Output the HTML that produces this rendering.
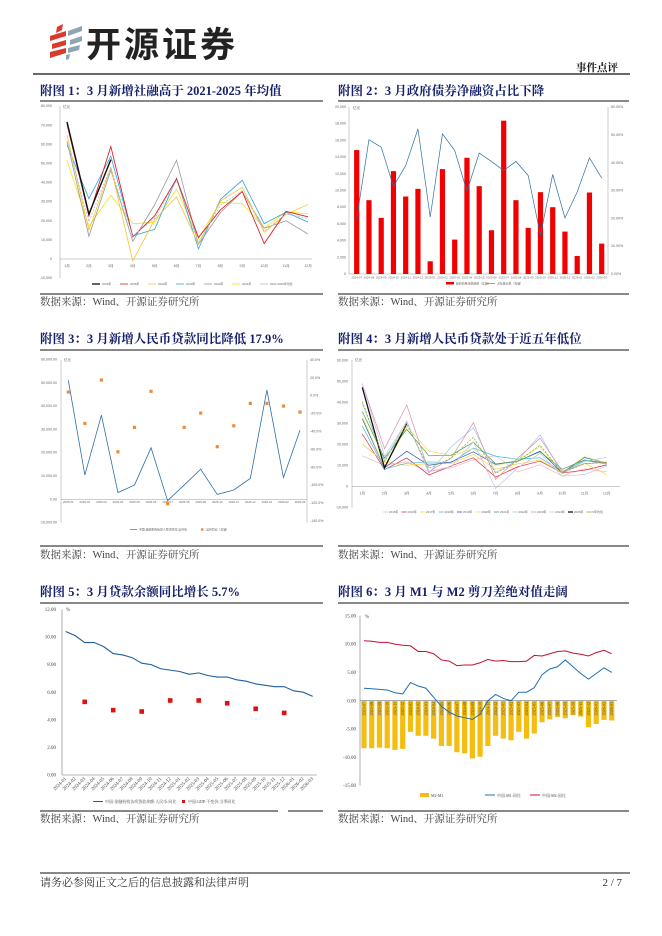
<!DOCTYPE html>
<html><head><meta charset="utf-8">
<style>
html,body{margin:0;padding:0;background:#fff;}
svg{display:block;font-family:"Liberation Serif","Noto Serif CJK SC",serif;}
.t{font-family:"Liberation Serif","Noto Serif CJK SC",serif;font-weight:bold;fill:#16206a;font-size:12.5px;}
.src{font-size:10.5px;fill:#444;}
.tk{font-size:3.6px;fill:#666;font-family:"Liberation Sans","Noto Sans CJK SC",sans-serif;}
.lg{font-size:2.9px;fill:#666;font-family:"Liberation Sans","Noto Sans CJK SC",sans-serif;}
.tk2{font-size:5px;fill:#444;}
.lg2{font-size:4px;fill:#444;}
</style></head><body>
<svg id="pg" width="662" height="936" viewBox="0 0 662 936" xmlns="http://www.w3.org/2000/svg">
<g>
 <g>
  <path d="M57 27 L63 24 L62 30 L56 33Z" fill="#d93a2b"/>
  <path d="M50 36 L66 31 L66 36 L50 41Z" fill="#d93a2b"/>
  <path d="M52 44 L66 40 L66 45 L52 49Z" fill="#d93a2b"/>
  <path d="M50 52 L66 48 L66 53 L50 58Z" fill="#d93a2b"/>
  <path d="M68 31 L82 26 L82 31 L68 36Z" fill="#8fa5b3"/>
  <path d="M70 40 L82 36 L82 41 L70 45Z" fill="#8fa5b3"/>
  <path d="M68 48 L80 45 L79 50 L68 53Z" fill="#8fa5b3"/>
  <path d="M66 55 L70 54 L69 59 L66 60Z" fill="#8fa5b3"/>
 </g>
 <text x="86" y="57" font-family="'Liberation Sans','Noto Sans CJK SC',sans-serif" font-weight="bold" font-size="35" fill="#222" letter-spacing="3">开源证券</text>
</g>
<text x="618" y="71" text-anchor="end" font-size="10.5" font-weight="bold" fill="#111">事件点评</text>
<line x1="33" y1="74" x2="630" y2="74" stroke="#111" stroke-width="1.2"/>

<text class="t" x="40" y="95">附图 1：3 月新增社融高于 2021-2025 年均值</text>
<text class="t" x="338" y="95">附图 2：3 月政府债券净融资占比下降</text>
<text class="t" x="40" y="343">附图 3：3 月新增人民币贷款同比降低 17.9%</text>
<text class="t" x="338" y="343">附图 4：3 月新增人民币贷款处于近五年低位</text>
<text class="t" x="40" y="596">附图 5：3 月贷款余额同比增长 5.7%</text>
<text class="t" x="338" y="596">附图 6：3 月 M1 与 M2 剪刀差绝对值走阔</text>

<g stroke="#111" stroke-width="1.1">
 <line x1="40" y1="101" x2="323" y2="101"/><line x1="338" y1="101" x2="629" y2="101"/>
 <line x1="40" y1="294" x2="323" y2="294"/><line x1="338" y1="294" x2="629" y2="294"/>
 <line x1="40" y1="350" x2="323" y2="350"/><line x1="338" y1="350" x2="629" y2="350"/>
 <line x1="40" y1="546" x2="323" y2="546"/><line x1="338" y1="546" x2="629" y2="546"/>
 <line x1="40" y1="603" x2="323" y2="603"/><line x1="338" y1="603" x2="629" y2="603"/>
 <line x1="40" y1="811" x2="278" y2="811"/><line x1="288" y1="811" x2="323" y2="811"/><line x1="338" y1="811" x2="629" y2="811"/>
</g>
<text class="src" x="40" y="305">数据来源：Wind、开源证券研究所</text>
<text class="src" x="338" y="305">数据来源：Wind、开源证券研究所</text>
<text class="src" x="40" y="558">数据来源：Wind、开源证券研究所</text>
<text class="src" x="338" y="558">数据来源：Wind、开源证券研究所</text>
<text class="src" x="40" y="822">数据来源：Wind、开源证券研究所</text>
<text class="src" x="338" y="822">数据来源：Wind、开源证券研究所</text>

<line x1="40" y1="873" x2="630" y2="873" stroke="#111" stroke-width="1"/>
<text x="40" y="886" font-size="11" fill="#333">请务必参阅正文之后的信息披露和法律声明</text>
<text x="622" y="886" text-anchor="end" font-size="11" fill="#333">2 / 7</text>
<g id="charts"></g>
</svg>
<script>
// ---------- Chart 1 data ----------
const c1Months = ["1月","2月","3月","4月","5月","6月","7月","8月","9月","10月","11月","12月"];
const c1Ticks = [-10000,0,10000,20000,30000,40000,50000,60000,70000,80000];
const c1Names = ["2026年","2025年","2024年","2023年","2022年","2021年","2021-2025年均值"];
const c1S2026 = [71800,23500,52000];
const c1S2025 = [70600,22500,58900,11600,22600,42000,11300,25700,35300,8100,24900,22100];
const c1S2024 = [65000,15000,48000,-1000,20600,32500,7700,30300,37600,14000,23400,28500];
const c1S2023 = [59800,31600,53800,12200,15500,42300,5300,31200,41200,18500,24500,19300];
const c1S2022 = [61700,11900,46500,9300,28400,51700,7600,24300,35300,16100,20000,13100];
const c1S2021 = [51700,17100,33400,18500,19200,36700,10800,29600,29000,16200,24700,23700];
const c1Mean = [61800,19600,48100,12000,21300,41000,8500,28100,35700,14600,23500,21300];
// ---------- Chart 2 data ----------
const c2Dates = ["2024-07","2024-08","2024-09","2024-10","2024-11","2024-12","2025-01","2025-02","2025-03","2025-04","2025-05","2025-06","2025-07","2025-08","2025-09","2025-10","2025-11","2025-12","2026-01","2026-02","2026-03"];
const c2Bond = [14840,8840,6720,12320,9280,10200,1520,12560,4120,13920,10520,5240,18360,8840,5520,9800,8000,5080,2160,9760,3640];
const c2Share = [19.9,48.3,45.6,31.5,39.0,52.2,20.5,50.4,44.4,29.8,43.5,40.5,37.2,40.5,35.4,13.9,35.8,20.2,29.5,41.8,34.5];
const c2LeftTicks = [0,2000,4000,6000,8000,10000,12000,14000,16000,18000,20000];
const c2RightTicks = [0,10,20,30,40,50,60];
// ---------- Chart 3 data ----------
const c3Dates = ["2025-01","2025-02","2025-03","2025-04","2025-05","2025-06","2025-07","2025-08","2025-09","2025-10","2025-11","2025-12","2026-01","2026-02","2026-03"];
const c3Loans = [51100,10400,36100,2900,6100,22100,-600,6100,12900,2100,4000,9000,46900,9300,29700];
const c3YoY = [4.1,-31,17.5,-62.7,-35.4,4.9,-120.5,-35.4,-19.4,-57,-33.6,-8.6,-8.6,-11.6,-18.3];
const c3LeftTicks = [-10000,0,10000,20000,30000,40000,50000,60000];
const c3RightTicks = [40,20,0,-20,-40,-60,-80,-100,-120,-140];
// ---------- Chart 4 data ----------
const c4Months = ["1月","2月","3月","4月","5月","6月","7月","8月","9月","10月","11月","12月"];
const c4Ticks = [-10000,0,10000,20000,30000,40000,50000,60000];
const c4Names = ["2015年","2016年","2017年","2018年","2019年","2020年","2021年","2022年","2023年","2024年","2026年","5年均值"];
const c4S2015 = [14700,10200,11800,7100,9000,12800,14800,7000,10500,5100,8500,7100];
const c4S2016 = [25100,8100,13700,5600,9900,13800,4600,9500,12200,6500,7900,10400];
const c4S2017 = [20300,11700,10200,11000,11100,15400,8300,10900,12700,6600,11200,5800];
const c4S2018 = [29000,8400,11200,11800,11500,18400,14500,13100,13800,6970,12500,10800];
const c4S2019 = [32300,8900,16900,10200,11800,16600,10600,12100,16900,6600,13900,11400];
const c4S2020 = [33400,9100,28500,17000,14800,18100,9900,12800,19000,6900,14300,11300];
const c4S2021 = [35800,13600,27300,14700,15000,21200,10800,12200,16600,8300,12700,11300];
const c4S2022 = [39800,12300,31300,6500,18900,28100,6800,12500,24700,6200,12100,14000];
const c4S2023 = [49000,18100,38900,7200,13600,30500,3500,13600,23100,7400,10900,11700];
const c4S2024 = [49200,14500,30900,7300,9500,21300,-800,9000,15900,5000,5800,9900];
const c4S2026 = [47300,9000,30000];
const c4Mean = [40600,12000,29800,8800,13600,23600,6400,12000,19800,6500,11000,11500];
// ---------- Chart 5 data ----------
const c5Dates = ["2024-01","2024-02","2024-03","2024-04","2024-05","2024-06","2024-07","2024-08","2024-09","2024-10","2024-11","2024-12","2025-01","2025-02","2025-03","2025-04","2025-05","2025-06","2025-07","2025-08","2025-09","2025-10","2025-11","2025-12","2026-01","2026-02","2026-03"];
const c5Loan = [10.4,10.1,9.6,9.6,9.3,8.8,8.7,8.5,8.1,8.0,7.7,7.6,7.5,7.3,7.4,7.2,7.1,7.1,6.9,6.8,6.6,6.5,6.4,6.4,6.1,6.0,5.7];
const c5GdpIdx = [2,5,8,11,14,17,20,23];
const c5Gdp = [5.3,4.7,4.6,5.4,5.4,5.2,4.8,4.5];
const c5Ticks = [0,2,4,6,8,10,12];
// ---------- Chart 6 data ----------
const c6Dates = ["2023-07","2023-08","2023-09","2023-10","2023-11","2023-12","2024-01","2024-02","2024-03","2024-04","2024-05","2024-06","2024-07","2024-08","2024-09","2024-10","2024-11","2024-12","2025-01","2025-02","2025-03","2025-04","2025-05","2025-06","2025-07","2025-08","2025-09","2025-10","2025-11","2025-12","2026-01","2026-02","2026-03"];
const c6M1 = [2.2,2.1,2.0,1.9,1.4,1.2,3.2,2.6,2.2,0.6,-1.0,-2.0,-2.7,-3.0,-3.3,-2.4,0.0,1.1,0.4,0.0,1.5,1.5,2.3,4.6,5.6,6.0,7.2,6.0,4.8,3.8,4.8,5.8,5.0];
const c6M2 = [10.6,10.5,10.3,10.3,10.0,9.8,9.7,8.7,8.7,8.3,7.2,7.0,6.2,6.3,6.3,6.7,7.3,7.0,7.1,6.9,6.9,7.0,8.0,7.9,8.3,8.7,8.8,8.4,8.2,7.9,8.5,8.9,8.3];
const c6Gap = [-8.4,-8.4,-8.3,-8.4,-8.7,-8.5,-5.5,-6.2,-6.2,-6.7,-8.0,-8.0,-9.1,-9.3,-10.2,-9.9,-8.0,-6.2,-6.7,-7.0,-5.5,-6.7,-5.8,-3.8,-3.3,-2.9,-3.1,-2.5,-2.8,-4.7,-4.1,-3.4,-3.5];
const c6Ticks = [-15,-10,-5,0,5,10,15];

const NS = "http://www.w3.org/2000/svg";
const root = document.getElementById("charts");
function mk(tag, attrs, parent){
  const e = document.createElementNS(NS, tag);
  for (const k in attrs) e.setAttribute(k, attrs[k]);
  (parent||root).appendChild(e);
  return e;
}
function txt(x,y,s,cls,anchor,parent){
  const t = mk("text",{x:x,y:y,"class":cls,"text-anchor":anchor||"start"},parent);
  t.textContent = s;
  return t;
}
function fmt(v){ return v.toLocaleString("en-US"); }
function poly(vals, fx, fy, color, w, dash, name, parent){
  const pts = vals.map((v,i)=>fx(i).toFixed(2)+","+fy(v).toFixed(2)).join(" ");
  const p = mk("polyline",{points:pts,fill:"none",stroke:color,"stroke-width":w},parent);
  if (dash) p.setAttribute("stroke-dasharray", dash);
  
  
  return p;
}
function group(name){
  const g = mk("g",{});
  
  
  return g;
}

// ===== Chart 1 =====
(function(){
  const g = group("chart-1-social-financing");
  const x = i => 67 + i*(308-67)/11;
  const y = v => 259 - v/10000*19.1;
  mk("line",{x1:60,y1:y(-10000),x2:60,y2:y(80000),stroke:"#999","stroke-width":0.5},g);
  mk("line",{x1:60,y1:y(0),x2:312,y2:y(0),stroke:"#999","stroke-width":0.5},g);
  c1Ticks.forEach(t=>txt(52,y(t)+1,fmt(t),"tk","end",g));
  c1Months.forEach((m,i)=>txt(x(i),y(0)+8,m,"tk","middle",g));
  txt(63,y(80000)+2,"亿元","tk","start",g);
  const series = [[c1S2021,"#f5e21a",0.8,null],[c1S2022,"#9a9a9a",0.8,null],[c1S2023,"#2ea6dc",0.8,null],[c1S2024,"#f4c430",0.8,null],[c1S2025,"#e0202a",0.9,null],[c1Mean,"#b5b5c8",0.8,"2,1.5"],[c1S2026,"#111",1.4,null]];
  series.forEach((s,k)=>poly(s[0],x,y,s[1],s[2],s[3],"series-line-"+k,g));
  const cols = ["#111","#e0202a","#f4c430","#2ea6dc","#9a9a9a","#f5e21a","#b5b5c8"];
  c1Names.forEach((n,i)=>{
    const lx = 92 + i*28;
    const l = mk("line",{x1:lx,y1:284,x2:lx+8,y2:284,stroke:cols[i],"stroke-width":i==0?1.3:0.8},g);
    
    
    txt(lx+10,285.2,n,"lg","start",g);
  });
})();

// ===== Chart 2 =====
(function(){
  const g = group("chart-2-government-bonds");
  const x = i => 356.7 + i*12.25;
  const yl = v => 274 - v/2000*16.7;
  const yr = v => 274 - v/10*27.8;
  mk("line",{x1:349,y1:107,x2:349,y2:274,stroke:"#999","stroke-width":0.5},g);
  mk("line",{x1:608,y1:107,x2:608,y2:274,stroke:"#999","stroke-width":0.5},g);
  mk("line",{x1:349,y1:274,x2:608,y2:274,stroke:"#999","stroke-width":0.5},g);
  c2LeftTicks.forEach(t=>txt(346,yl(t)+1,fmt(t),"tk","end",g));
  c2RightTicks.forEach(t=>txt(611,yr(t)+1,t.toFixed(2)+"%","tk","start",g));
  txt(353,109,"亿元","tk","start",g);
  c2Bond.forEach((v,i)=>{
    const r = mk("rect",{x:x(i)-2.6,y:yl(v),width:5.2,height:yl(0)-yl(v),fill:"#f00000"},g);
    
    
    txt(x(i),278.5,c2Dates[i],"lg","middle",g);
  });
  poly(c2Share,x,yr,"#2c6fa8",0.7,null,"share-line",g);
  mk("rect",{x:446,y:282,width:8,height:2.5,fill:"#f00000"},g);
  txt(456,284.5,"政府债券净融资额（左轴）","lg","start",g);
  mk("line",{x1:487,y1:283.3,x2:495,y2:283.3,stroke:"#2c6fa8","stroke-width":0.6},g);
  txt(497,284.5,"占社融比重（右轴）","lg","start",g);
})();

// ===== Chart 3 =====
(function(){
  const g = group("chart-3-rmb-loans");
  const x = i => 68.3 + i*(300-68.3)/14;
  const yl = v => 499.3 - v/10000*23.3;
  const yr = v => 395.7 - v/20*17.9;
  mk("line",{x1:61,y1:360,x2:61,y2:yl(-10000),stroke:"#999","stroke-width":0.5},g);
  mk("line",{x1:307,y1:360,x2:307,y2:yl(-10000),stroke:"#999","stroke-width":0.5},g);
  mk("line",{x1:61,y1:yl(0),x2:307,y2:yl(0),stroke:"#999","stroke-width":0.5},g);
  c3LeftTicks.forEach(t=>txt(57,yl(t)+1,fmt(t)+".00","tk","end",g));
  c3RightTicks.forEach(t=>txt(310,yr(t)+1,t.toFixed(1)+"%","tk","start",g));
  txt(64,361,"亿元","tk","start",g);
  c3Dates.forEach((d,i)=>txt(x(i),503,d,"lg","middle",g));
  poly(c3Loans,x,yl,"#2c6fa8",0.8,null,"loans-line",g);
  c3YoY.forEach((v,i)=>{
    const r = mk("rect",{x:x(i)-1.6,y:yr(v)-1.6,width:3.2,height:3.2,fill:"#f08a3c"},g);
    
    
  });
  mk("line",{x1:130,y1:529.5,x2:137,y2:529.5,stroke:"#2c6fa8","stroke-width":0.7},g);
  txt(139,530.7,"中国:金融机构新增人民币贷款:当月值","lg","start",g);
  mk("rect",{x:201,y:528.3,width:2.4,height:2.4,fill:"#f08a3c"},g);
  txt(206,530.7,"当月同比（右轴）","lg","start",g);
})();

// ===== Chart 4 =====
(function(){
  const g = group("chart-4-rmb-loans-by-year");
  const x = i => 362.3 + i*(606.7-362.3)/11;
  const y = v => 486.7 - v/10000*21;
  mk("line",{x1:352,y1:360,x2:352,y2:y(-10000),stroke:"#999","stroke-width":0.5},g);
  mk("line",{x1:352,y1:y(0),x2:620,y2:y(0),stroke:"#999","stroke-width":0.5},g);
  c4Ticks.forEach(t=>txt(348,y(t)+1,fmt(t),"tk","end",g));
  c4Months.forEach((m,i)=>txt(x(i),y(0)+8,m,"tk","middle",g));
  txt(355,361,"亿元","tk","start",g);
  const data = [c4S2015,c4S2016,c4S2017,c4S2018,c4S2019,c4S2020,c4S2021,c4S2022,c4S2023,c4S2024,c4S2026,c4Mean];
  const colsLine = ["#f0b8c8","#e0303a","#f4d23a","#4bb8e4","#2d55b0","#f4e060","#3aa050","#9ac8ee","#d890a8","#c8c0e8","#111","#8ca81a"];
  data.forEach((s,k)=>poly(s,x,y,colsLine[k],k==10?1.3:0.7,k==11?"2,1.5":null,"year-line-"+k,g));
  c4Names.forEach((n,i)=>{
    const lx = 383 + i*18.5;
    const l = mk("line",{x1:lx,y1:512,x2:lx+5,y2:512,stroke:colsLine[i],"stroke-width":i==10?1.3:0.8},g);
    
    
    txt(lx+6,513,n,"lg","start",g);
  });
})();

// ===== Chart 5 =====
(function(){
  const g = group("chart-5-loan-balance");
  const x = i => 65.7 + i*(312.7-65.7)/26;
  const y = v => 775 - v*13.8;
  mk("line",{x1:62,y1:y(12),x2:62,y2:y(0),stroke:"#777","stroke-width":0.6},g);
  mk("line",{x1:62,y1:y(0),x2:317,y2:y(0),stroke:"#777","stroke-width":0.6},g);
  c5Ticks.forEach(t=>txt(56,y(t)+1.6,t.toFixed(2),"tk2","end",g));
  txt(66,611,"%","tk2","start",g);
  c5Dates.forEach((d,i)=>{
    const t = txt(x(i)+1,779,d,"tk2","end",g);
    t.setAttribute("transform","rotate(-45 "+(x(i)+1)+" 779)");
  });
  poly(c5Loan,x,y,"#1f5f9e",1.1,null,"loan-balance-line",g);
  c5Gdp.forEach((v,k)=>{
    const r = mk("rect",{x:x(c5GdpIdx[k])-2.3,y:y(v)-2.3,width:4.6,height:4.6,fill:"#e01010"},g);
    
    
  });
  mk("line",{x1:93,y1:801.5,x2:103,y2:801.5,stroke:"#1f5f9e","stroke-width":1},g);
  txt(105,803,"中国:金融机构各项贷款余额:人民币:同比","lg2","start",g);
  mk("rect",{x:182,y:800,width:3,height:3,fill:"#e01010"},g);
  txt(188,803,"中国:GDP:不变价:当季同比","lg2","start",g);
})();

// ===== Chart 6 =====
(function(){
  const g = group("chart-6-m1-m2");
  const x = i => 364 + i*(611.7-364)/32;
  const y = v => 700.7 - v*5.66;
  c6Gap.forEach((v,i)=>{
    const r = mk("rect",{x:x(i)-2.6,y:y(0),width:5.2,height:y(v)-y(0),fill:"#f5bd10"},g);
    
    
  });
  mk("line",{x1:360,y1:y(15),x2:360,y2:y(-15),stroke:"#777","stroke-width":0.6},g);
  mk("line",{x1:360,y1:y(0),x2:617,y2:y(0),stroke:"#777","stroke-width":0.6},g);
  c6Ticks.forEach(t=>txt(356,y(t)+1.6,t.toFixed(2),"tk2","end",g));
  txt(365,618,"%","tk2","start",g);
  c6Dates.forEach((d,i)=>{
    const t = txt(x(i)+1.4,702,d,"lg2","end",g);
    t.setAttribute("transform","rotate(-90 "+(x(i)+1.4)+" 702)");
  });
  poly(c6M2,x,y,"#c8102e",1,null,"m2-line",g);
  poly(c6M1,x,y,"#1f6fb0",1,null,"m1-line",g);
  mk("rect",{x:420,y:793,width:9,height:4,fill:"#f5bd10"},g);
  txt(431,797,"M2-M1","lg2","start",g);
  mk("line",{x1:485,y1:795,x2:495,y2:795,stroke:"#1f6fb0","stroke-width":1},g);
  txt(497,797,"中国:M1:同比","lg2","start",g);
  mk("line",{x1:530,y1:795,x2:540,y2:795,stroke:"#c8102e","stroke-width":1},g);
  txt(542,797,"中国:M2:同比","lg2","start",g);
})();
</script>
</body></html>
